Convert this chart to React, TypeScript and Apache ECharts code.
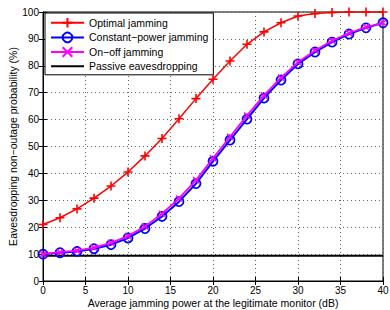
import React, { useEffect, useRef } from "react";
import * as echarts from "echarts";

const powerDb = [0, 2, 4, 6, 8, 10, 12, 14, 16, 18, 20, 22, 24, 26, 28, 30, 32, 34, 36, 38, 40];
const optimal = [21, 23.5, 26.8, 30.8, 35.3, 40.5, 46.5, 53, 60.3, 67.8, 75, 81.8, 88, 92.6, 96, 98.5, 99.4, 99.8, 100, 100, 100];
const constantPower = [10, 10.5, 11, 12, 13.5, 16, 19.5, 24, 29.5, 36.2, 44.5, 52.4, 60.2, 68, 74.7, 80.7, 85.1, 88.8, 91.8, 94.1, 96];
const onOff = [10, 10.7, 11.3, 12.4, 14.2, 16.7, 20.3, 25, 30.7, 37.5, 45.6, 53.6, 61.5, 69, 75.6, 81.3, 85.7, 89.3, 92.2, 94.4, 96];
const passive = 9.4;

const seriesNames = ["Optimal jamming", "Constant\u2212power jamming", "On\u2212off jamming", "Passive eavesdropping"];

const FONT = "Liberation Sans, Arial, Helvetica, sans-serif";

export default function App() {
  const ref = useRef<HTMLDivElement>(null);
  useEffect(() => {
    if (!ref.current) return;
    const chart = echarts.init(ref.current, null, { renderer: "svg" });
    const pair = (ys: number[]) => powerDb.map((x, i) => [x, ys[i]]);
    const plus = "path://M5,0L5,10M0,5L10,5";
    const cross = "path://M0,0L10,10M0,10L10,0";
    chart.setOption({
      animation: false,
      backgroundColor: "#fff",
      textStyle: { fontFamily: FONT },
      grid: {
        left: 43, right: 7, top: 12, bottom: 29,
        containLabel: false, outerBoundsMode: "none",
        show: true, borderColor: "#000", borderWidth: 1, backgroundColor: "transparent",
      },
      legend: {
        left: 45,
        top: 13,
        orient: "vertical",
        backgroundColor: "#fff",
        borderColor: "#000",
        borderWidth: 1,
        borderRadius: 0,
        padding: [4, 5, 3, 5],
        itemGap: 3,
        itemWidth: 33,
        itemHeight: 12,
        textStyle: { fontFamily: FONT, fontSize: 10.5, color: "#000" },
        data: [
          seriesNames[0],
          seriesNames[1],
          seriesNames[2],
          { name: seriesNames[3], icon: "path://M0,0L34,0L34,2L0,2Z" },
        ],
      },
      xAxis: [
        {
          type: "value",
          min: 0,
          max: 40,
          interval: 5,
          name: "Average jamming power at the legitimate monitor (dB)",
          nameLocation: "middle",
          nameGap: 16,
          nameMoveOverlap: false,
          nameTextStyle: { fontFamily: FONT, fontSize: 10.5, color: "#000" },
          axisLine: { show: true, lineStyle: { color: "#000", width: 1 } },
          axisTick: { show: true, inside: true, length: 4, lineStyle: { color: "#000" } },
          axisLabel: { fontFamily: FONT, fontSize: 10, color: "#000", margin: 4 },
          splitLine: { show: true, lineStyle: { color: "#666", type: [1, 3], width: 1 } },
        },
        {
          type: "value",
          position: "top",
          min: 0,
          max: 40,
          interval: 5,
          axisLine: { show: true, lineStyle: { color: "#000" } },
          axisTick: { show: true, inside: true, length: 4, lineStyle: { color: "#000" } },
          axisLabel: { show: false },
          splitLine: { show: false },
        },
      ],
      yAxis: [
        {
          type: "value",
          min: 0,
          max: 100,
          interval: 10,
          name: "Eavesdropping non\u2212outage probability (%)",
          nameLocation: "middle",
          nameGap: 25,
          nameMoveOverlap: false,
          nameTextStyle: { fontFamily: FONT, fontSize: 10.5, color: "#000" },
          axisLine: { show: true, lineStyle: { color: "#000", width: 1 } },
          axisTick: { show: true, inside: true, length: 4, lineStyle: { color: "#000" } },
          axisLabel: { fontFamily: FONT, fontSize: 10, color: "#000", margin: 4 },
          splitLine: { show: true, lineStyle: { color: "#666", type: [1, 3], width: 1 } },
        },
        {
          type: "value",
          position: "right",
          min: 0,
          max: 100,
          interval: 10,
          axisLine: { show: true, lineStyle: { color: "#000" } },
          axisTick: { show: true, inside: true, length: 4, lineStyle: { color: "#000" } },
          axisLabel: { show: false },
          splitLine: { show: false },
        },
      ],
      series: [
        {
          name: seriesNames[0],
          type: "line",
          data: pair(optimal),
          symbol: plus,
          symbolSize: 9,
          showAllSymbol: true,
          lineStyle: { color: "#ff0000", width: 1.5 },
          itemStyle: { color: "#ff0000", borderColor: "#ff0000", borderWidth: 1.6 },
          z: 4,
        },
        {
          name: seriesNames[1],
          type: "line",
          data: pair(constantPower),
          symbol: "circle",
          symbolSize: 9,
          showAllSymbol: true,
          lineStyle: { color: "#0000ff", width: 2 },
          itemStyle: { color: "transparent", borderColor: "#0000ff", borderWidth: 1.8 },
          z: 3,
        },
        {
          name: seriesNames[2],
          type: "line",
          data: pair(onOff),
          symbol: cross,
          symbolSize: 6,
          showAllSymbol: true,
          lineStyle: { color: "#ff00ff", width: 1.8 },
          itemStyle: { color: "#ff00ff", borderColor: "#ff00ff", borderWidth: 1.5 },
          z: 5,
        },
        {
          name: seriesNames[3],
          type: "line",
          data: [[0, passive], [40, passive]],
          symbol: "none",
          lineStyle: { color: "#000", width: 2 },
          itemStyle: { color: "#000" },
          z: 2,
        },
      ],
    });
    return () => chart.dispose();
  }, []);
  return <div ref={ref} style={{ width: 390, height: 310, position: "absolute", left: 0, top: 0 }} />;
}
